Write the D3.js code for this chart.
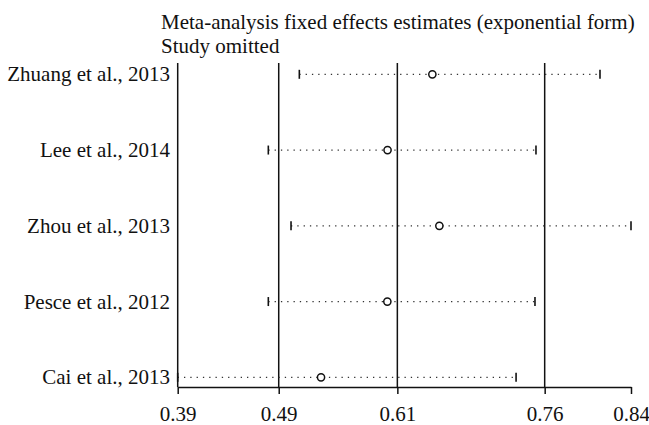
<!DOCTYPE html>
<html>
<head>
<meta charset="utf-8">
<script src="https://cdn.jsdelivr.net/npm/d3@7"></script>
<style>
body { margin: 0; background: #fff; }
svg text { font-family: "Liberation Serif", "Times New Roman", serif; fill: #111; }
</style>
</head>
<body>
<svg id="chart" width="649" height="425"></svg>
<script>
// study omitted in each row, with the pooled estimate and its CI without it
var studies = ["Zhuang et al., 2013", "Lee et al., 2014", "Zhou et al., 2013", "Pesce et al., 2012", "Cai et al., 2013"];
var estimates = [0.6436, 0.5988, 0.6506, 0.5986, 0.5323];
var lowerCI = [0.5106, 0.4796, 0.5023, 0.4796, 0.3890];
var upperCI = [0.8112, 0.7472, 0.8422, 0.7462, 0.7273];

// overall estimate: lower, point, upper
var overall = [0.4900, 0.6086, 0.7559];
// axis ticks: min lower, overall lower/point/upper, max upper
var tickValues = [0.3890, 0.4900, 0.6086, 0.7559, 0.8422];

var fontSize = 21;
var plotLeft = 177.7, plotRight = 631, plotTop = 63, axisY = 387;

var svg = d3.select("#chart");

var x = d3.scaleLinear()
    .domain([d3.min(lowerCI), d3.max(upperCI)])
    .range([plotLeft, plotRight]);

var y = d3.scalePoint()
    .domain(studies)
    .range([74.3, 377.3]);

var rows = studies.map(function(s, i){
    return {name: s, est: estimates[i], lo: lowerCI[i], hi: upperCI[i]};
});

// title
svg.append("text")
    .attr("x", 161).attr("y", 29)
    .style("font-size", fontSize + "px")
    .text("Meta-analysis fixed effects estimates (exponential form)");
svg.append("text")
    .attr("x", 161).attr("y", 53)
    .style("font-size", fontSize + "px")
    .text("Study omitted");

// left frame line at the minimum
svg.append("line")
    .attr("x1", x(d3.min(lowerCI))).attr("x2", x(d3.min(lowerCI)))
    .attr("y1", plotTop).attr("y2", axisY)
    .attr("stroke", "#111").attr("stroke-width", 1.5);

// overall estimate and CI lines
svg.selectAll("line.overall")
    .data(overall)
    .enter()
    .append("line")
    .attr("class", "overall")
    .attr("x1", function(d){ return x(d); })
    .attr("x2", function(d){ return x(d); })
    .attr("y1", plotTop).attr("y2", axisY)
    .attr("stroke", "#111").attr("stroke-width", 1.5);

// one group per omitted study
var g = svg.selectAll("g.row")
    .data(rows)
    .enter()
    .append("g")
    .attr("class", "row")
    .attr("transform", function(d){ return `translate(0 ${y(d.name)})`; });

// dotted CI line
g.append("line")
    .attr("x1", function(d){ return x(d.lo); })
    .attr("x2", function(d){ return x(d.hi); })
    .attr("y1", 0).attr("y2", 0)
    .attr("stroke", "#333")
    .attr("stroke-width", 1.3)
    .attr("stroke-dasharray", "1.3 5");

// caps
g.selectAll("line.cap")
    .data(function(d){ return [d.lo, d.hi]; })
    .enter()
    .append("line")
    .attr("class", "cap")
    .attr("x1", function(d){ return x(d); })
    .attr("x2", function(d){ return x(d); })
    .attr("y1", -4.5).attr("y2", 4.5)
    .attr("stroke", "#111").attr("stroke-width", 1.6);

g.append("circle")
    .attr("cx", function(d){ return x(d.est); })
    .attr("cy", 0)
    .attr("r", 3.6)
    .attr("fill", "#fff")
    .attr("stroke", "#111")
    .attr("stroke-width", 1.5);

g.append("text")
    .attr("x", 170)
    .attr("y", 7)
    .attr("text-anchor", "end")
    .style("font-size", fontSize + "px")
    .text(function(d){ return d.name; });

// x axis
var axis = d3.axisBottom(x)
    .tickValues(tickValues)
    .tickFormat(d3.format(".2f"))
    .tickSize(7)
    .tickSizeOuter(0);

var ax = svg.append("g")
    .attr("transform", `translate(0 ${axisY})`)
    .call(axis);

ax.select(".domain").attr("stroke", "#111").attr("stroke-width", 1.5);
ax.selectAll(".tick line").attr("stroke", "#111").attr("stroke-width", 1.5);
ax.selectAll(".tick text")
    .attr("y", 34)
    .attr("dy", null)
    .style("font-size", fontSize + "px")
    .style("font-family", "Liberation Serif, serif")
    .attr("fill", "#111");
</script>
</body>
</html>
